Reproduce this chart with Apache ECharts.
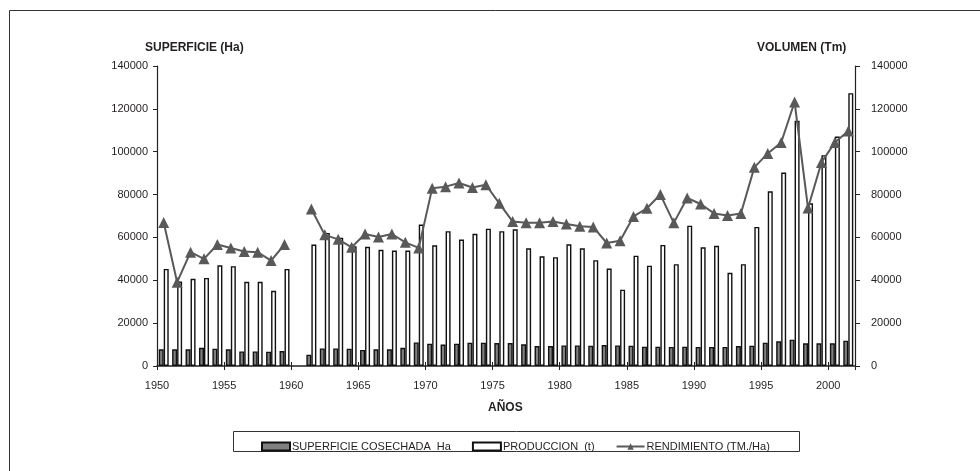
<!DOCTYPE html>
<html>
<head>
<meta charset="utf-8">
<script src="https://cdn.jsdelivr.net/npm/echarts@6/dist/echarts.min.js"></script>
<style>
  html, body { margin: 0; padding: 0; background: #fff; }
  #chart { width: 980px; height: 471px; }
</style>
</head>
<body>
<div id="chart"></div>
<script>
var years = [];
for (var y = 1950; y <= 2001; y++) { years.push(String(y)); }

// 1960 sin datos (null)
var superficie = [
  7800, 7800, 7800, 8500, 8100, 7800, 6800, 6800, 6700, 7000,
  null, 5300, 8200, 8200, 8100, 7500, 7800, 7800, 8500, 11000,
  10400, 10000, 10400, 10900, 10900, 10700, 10700, 10100, 9300, 9300,
  9600, 9600, 9500, 9800, 9600, 9500, 9000, 9000, 8900, 9000,
  8900, 8900, 8900, 9300, 9500, 10900, 11500, 12300, 10600, 10600,
  10600, 11800
];
var produccion = [
  45300, 39400, 40700, 41100, 47000, 46600, 39300, 39300, 35100, 45300,
  null, 56700, 62100, 59800, 55900, 55600, 54200, 53900, 53900, 66000,
  56300, 62900, 59000, 61700, 64100, 62900, 63800, 54900, 51200, 50800,
  56800, 54900, 49400, 45500, 35600, 51500, 46800, 56500, 47500, 65500,
  55400, 56100, 43500, 47500, 64900, 81500, 90300, 114400, 75900, 98400,
  107100, 127300
];
var rendimiento = [
  67000, 39100, 53100, 50000, 56700, 55100, 53400, 53100, 49200, 56700,
  null, 73300, 61200, 59100, 55400, 61600, 60200, 61600, 57700, 55100,
  82900, 83700, 85400, 83300, 84600, 75900, 67400, 66900, 66900, 67400,
  66300, 65200, 64900, 57400, 58500, 69800, 73600, 80000, 66800, 78400,
  75600, 71200, 70200, 71200, 92700, 99200, 104300, 123200, 73700, 95000,
  104300, 109700
];
var yTicks = [0, 20000, 40000, 60000, 80000, 100000, 120000, 140000];

var font = 'Liberation Sans, Arial, sans-serif';
var ink = '#231f20';

var myChart = echarts.init(document.getElementById('chart'));

function plain(v) { return String(v); }

var option = {
  animation: false,
  backgroundColor: '#fff',
  textStyle: { fontFamily: font, color: ink },
  grid: { left: 157, right: 125, top: 66, bottom: 105 },
  legend: {
    left: 256,
    top: 436,
    itemWidth: 28,
    itemHeight: 8,
    itemGap: 21,
    textStyle: { fontFamily: font, fontSize: 11, color: ink, padding: [0, 0, 0, -3] },
    data: [
      { name: 'SUPERFICIE COSECHADA  Ha', icon: 'rect' },
      { name: 'PRODUCCION  (t)', icon: 'rect' },
      { name: 'RENDIMIENTO (TM./Ha)' }
    ]
  },
  graphic: [
    { type: 'rect', shape: { x: 9.5, y: 10.5, width: 990, height: 500 },
      style: { fill: 'none', stroke: '#333', lineWidth: 1 }, silent: true },
    { type: 'rect', shape: { x: 233.5, y: 431.5, width: 566, height: 20 },
      style: { fill: 'none', stroke: '#333', lineWidth: 1 }, silent: true },
    { type: 'text', left: 145, top: 42,
      style: { text: 'SUPERFICIE (Ha)', font: 'bold 12px ' + font, fill: ink } },
    { type: 'text', left: 757, top: 42,
      style: { text: 'VOLUMEN (Tm)', font: 'bold 12px ' + font, fill: ink } },
    { type: 'text', left: 488, top: 402,
      style: { text: 'AÑOS', font: 'bold 12px ' + font, fill: ink } }
  ],
  xAxis: [
    {
      type: 'category',
      data: years,
      boundaryGap: true,
      axisLine: { lineStyle: { color: '#222', width: 1.5 } },
      axisTick: { show: true, inside: true, interval: 4, length: 4, lineStyle: { color: '#222' } },
      axisLabel: { show: false },
      splitLine: { show: false }
    },
    {
      type: 'value',
      position: 'bottom',
      min: 1950,
      max: 2002,
      interval: 5,
      axisLine: { show: false },
      axisTick: { show: true, length: 4, lineStyle: { color: '#222' } },
      axisLabel: {
        margin: 14,
        fontSize: 11,
        color: ink,
        fontFamily: font,
        formatter: function (v) { return v % 5 === 0 ? String(v) : ''; }
      },
      splitLine: { show: false }
    }
  ],
  yAxis: [
    {
      type: 'value',
      position: 'left',
      min: yTicks[0],
      max: yTicks[yTicks.length - 1],
      interval: 20000,
      axisLine: { show: true, lineStyle: { color: '#222', width: 1.2 } },
      axisTick: { show: true, length: 4, lineStyle: { color: '#222' } },
      axisLabel: { margin: 9, fontSize: 11, color: ink, fontFamily: font, formatter: plain },
      splitLine: { show: false }
    },
    {
      type: 'value',
      position: 'right',
      min: yTicks[0],
      max: yTicks[yTicks.length - 1],
      interval: 20000,
      axisLine: { show: true, lineStyle: { color: '#222', width: 1.2 } },
      axisTick: { show: true, length: 5, lineStyle: { color: '#222' } },
      axisLabel: { margin: 16, fontSize: 11, color: ink, fontFamily: font, formatter: plain },
      splitLine: { show: false }
    }
  ],
  series: [
    {
      name: 'SUPERFICIE COSECHADA  Ha',
      type: 'bar',
      yAxisIndex: 0,
      barWidth: 5,
      barGap: '0%',
      itemStyle: { color: '#808080', borderColor: '#111', borderWidth: 1.4 },
      data: superficie
    },
    {
      name: 'PRODUCCION  (t)',
      type: 'bar',
      yAxisIndex: 1,
      barWidth: 5,
      itemStyle: { color: '#fff', borderColor: '#111', borderWidth: 1.4 },
      data: produccion
    },
    {
      name: 'RENDIMIENTO (TM./Ha)',
      type: 'line',
      yAxisIndex: 1,
      connectNulls: false,
      showSymbol: true,
      showAllSymbol: true,
      symbol: 'triangle',
      symbolSize: 11,
      itemStyle: { color: '#595959' },
      lineStyle: { color: '#595959', width: 2 },
      data: rendimiento
    }
  ]
};

myChart.setOption(option);
</script>
</body>
</html>
